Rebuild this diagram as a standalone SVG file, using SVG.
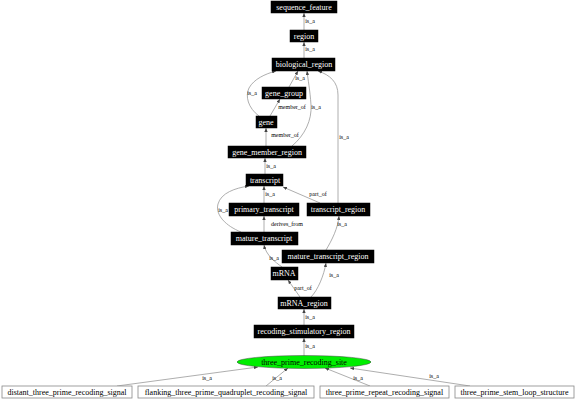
<svg xmlns="http://www.w3.org/2000/svg" width="576" height="401" viewBox="0 0 576 401">
<defs>
<style>
.n rect{fill:#000;stroke:#000;stroke-width:0.5}
.n text{fill:#fff;font-family:"Liberation Serif",serif;font-size:8px;text-anchor:middle}
.w rect{fill:#fff;stroke:#888;stroke-width:0.8}
.w text{fill:#000;font-family:"Liberation Serif",serif;font-size:8px;text-anchor:middle}
.e path{fill:none;stroke:#999;stroke-width:0.8;marker-end:url(#ah)}
.e text{fill:#000;font-family:"Liberation Serif",serif;font-size:6px;text-anchor:middle}
</style>
<marker id="ah" viewBox="0 0 6 5" refX="6" refY="2.5" markerWidth="4" markerHeight="3.4" markerUnits="userSpaceOnUse" orient="auto">
<path d="M0,0 L6,2.5 L0,5 z" fill="#444"/>
</marker>
</defs>
<rect width="576" height="401" fill="#fff"/>
<g id="connectors" class="e">
<path d="M304,30 L304,13"/><text x="310" y="23">is_a</text>
<path d="M304,58 L304,42"/><text x="310" y="51">is_a</text>
<path d="M289,87 L298,71"/><text x="300" y="80">is_a</text>
<path d="M259,116 C248,108 245,96 249,88 C254,79 265,74 276,71"/><text x="252" y="95">is_a</text>
<path d="M270,116 L280,99"/><text x="292" y="109">member_of</text>
<path d="M266,146 L266,128"/><text x="285" y="137">member_of</text>
<path d="M292,146 C305,135 312,120 311,105 C310,90 308,80 307,71"/><text x="316" y="109">is_a</text>
<path d="M338,203 L338,95 C338,82 330,75 318,71"/><text x="344" y="139">is_a</text>
<path d="M265,174 L265,158"/><text x="271" y="168">is_a</text>
<path d="M264,203 L264,186"/><text x="270" y="196">is_a</text>
<path d="M320,203 L283,187"/><text x="318" y="196">part_of</text>
<path d="M241,232 C226,226 215,215 218,204 C221,193 235,188 249,186"/><text x="223" y="212">is_a</text>
<path d="M264,232 L264,216"/><text x="287" y="226">derives_from</text>
<path d="M282,267 C275,262 266,255 264,245"/><text x="274" y="260">is_a</text>
<path d="M326,250 C332,240 338,228 339,216"/><text x="342" y="226">is_a</text>
<path d="M300,297 L288,280"/><text x="303" y="290">part_of</text>
<path d="M311,297 C318,290 324,275 326,263"/><text x="334" y="277">is_a</text>
<path d="M304,325 L304,309"/><text x="310" y="319">is_a</text>
<path d="M304,356 L304,338"/><text x="310" y="348">is_a</text>
<path d="M117,386 L258,367"/><text x="207" y="380">is_a</text>
<path d="M266,386 L288,368"/><text x="277" y="380">is_a</text>
<path d="M370,386 L325,368"/><text x="358" y="380">is_a</text>
<path d="M470,386 L350,368"/><text x="434" y="378">is_a</text>
</g>
<g id="sequence_feature" class="n"><rect x="271" y="1" width="66" height="12"/><text x="304" y="10">sequence_feature</text></g>
<g id="region" class="n"><rect x="290" y="30" width="28" height="12"/><text x="304" y="39">region</text></g>
<g id="biological_region" class="n"><rect x="272" y="58" width="63" height="13"/><text x="304" y="67">biological_region</text></g>
<g id="gene_group" class="n"><rect x="262" y="87" width="44" height="12"/><text x="284" y="96">gene_group</text></g>
<g id="gene" class="n"><rect x="256" y="116" width="21" height="12"/><text x="266" y="125">gene</text></g>
<g id="gene_member_region" class="n"><rect x="228" y="146" width="78" height="12"/><text x="267" y="155">gene_member_region</text></g>
<g id="transcript" class="n"><rect x="246" y="174" width="37" height="12"/><text x="265" y="183">transcript</text></g>
<g id="primary_transcript" class="n"><rect x="229" y="203" width="70" height="13"/><text x="264" y="212">primary_transcript</text></g>
<g id="transcript_region" class="n"><rect x="307" y="203" width="63" height="13"/><text x="338" y="212">transcript_region</text></g>
<g id="mature_transcript" class="n"><rect x="231" y="232" width="67" height="13"/><text x="264" y="241">mature_transcript</text></g>
<g id="mature_transcript_region" class="n"><rect x="282" y="250" width="92" height="13"/><text x="328" y="259">mature_transcript_region</text></g>
<g id="mRNA" class="n"><rect x="271" y="267" width="27" height="13"/><text x="284" y="276">mRNA</text></g>
<g id="mRNA_region" class="n"><rect x="278" y="297" width="53" height="12"/><text x="304" y="306">mRNA_region</text></g>
<g id="recoding_stimulatory_region" class="n"><rect x="254" y="325" width="100" height="13"/><text x="304" y="334">recoding_stimulatory_region</text></g>
<g id="three_prime_recoding_site"><ellipse cx="304" cy="362" rx="67" ry="6.5" fill="#00ee00" stroke="#444" stroke-width="0.5"/><text x="304" y="365" font-family="Liberation Serif, serif" font-size="8" text-anchor="middle" fill="#000">three_prime_recoding_site</text></g>
<g id="distant_three_prime_recoding_signal" class="w"><rect x="2" y="386" width="130" height="12"/><text x="67" y="395">distant_three_prime_recoding_signal</text></g>
<g id="flanking_three_prime_quadruplet_recoding_signal" class="w"><rect x="138" y="386" width="176" height="12"/><text x="226" y="395">flanking_three_prime_quadruplet_recoding_signal</text></g>
<g id="three_prime_repeat_recoding_signal" class="w"><rect x="320" y="386" width="129" height="12"/><text x="384.5" y="395">three_prime_repeat_recoding_signal</text></g>
<g id="three_prime_stem_loop_structure" class="w"><rect x="455" y="386" width="119" height="12"/><text x="514.5" y="395">three_prime_stem_loop_structure</text></g>
</svg>
